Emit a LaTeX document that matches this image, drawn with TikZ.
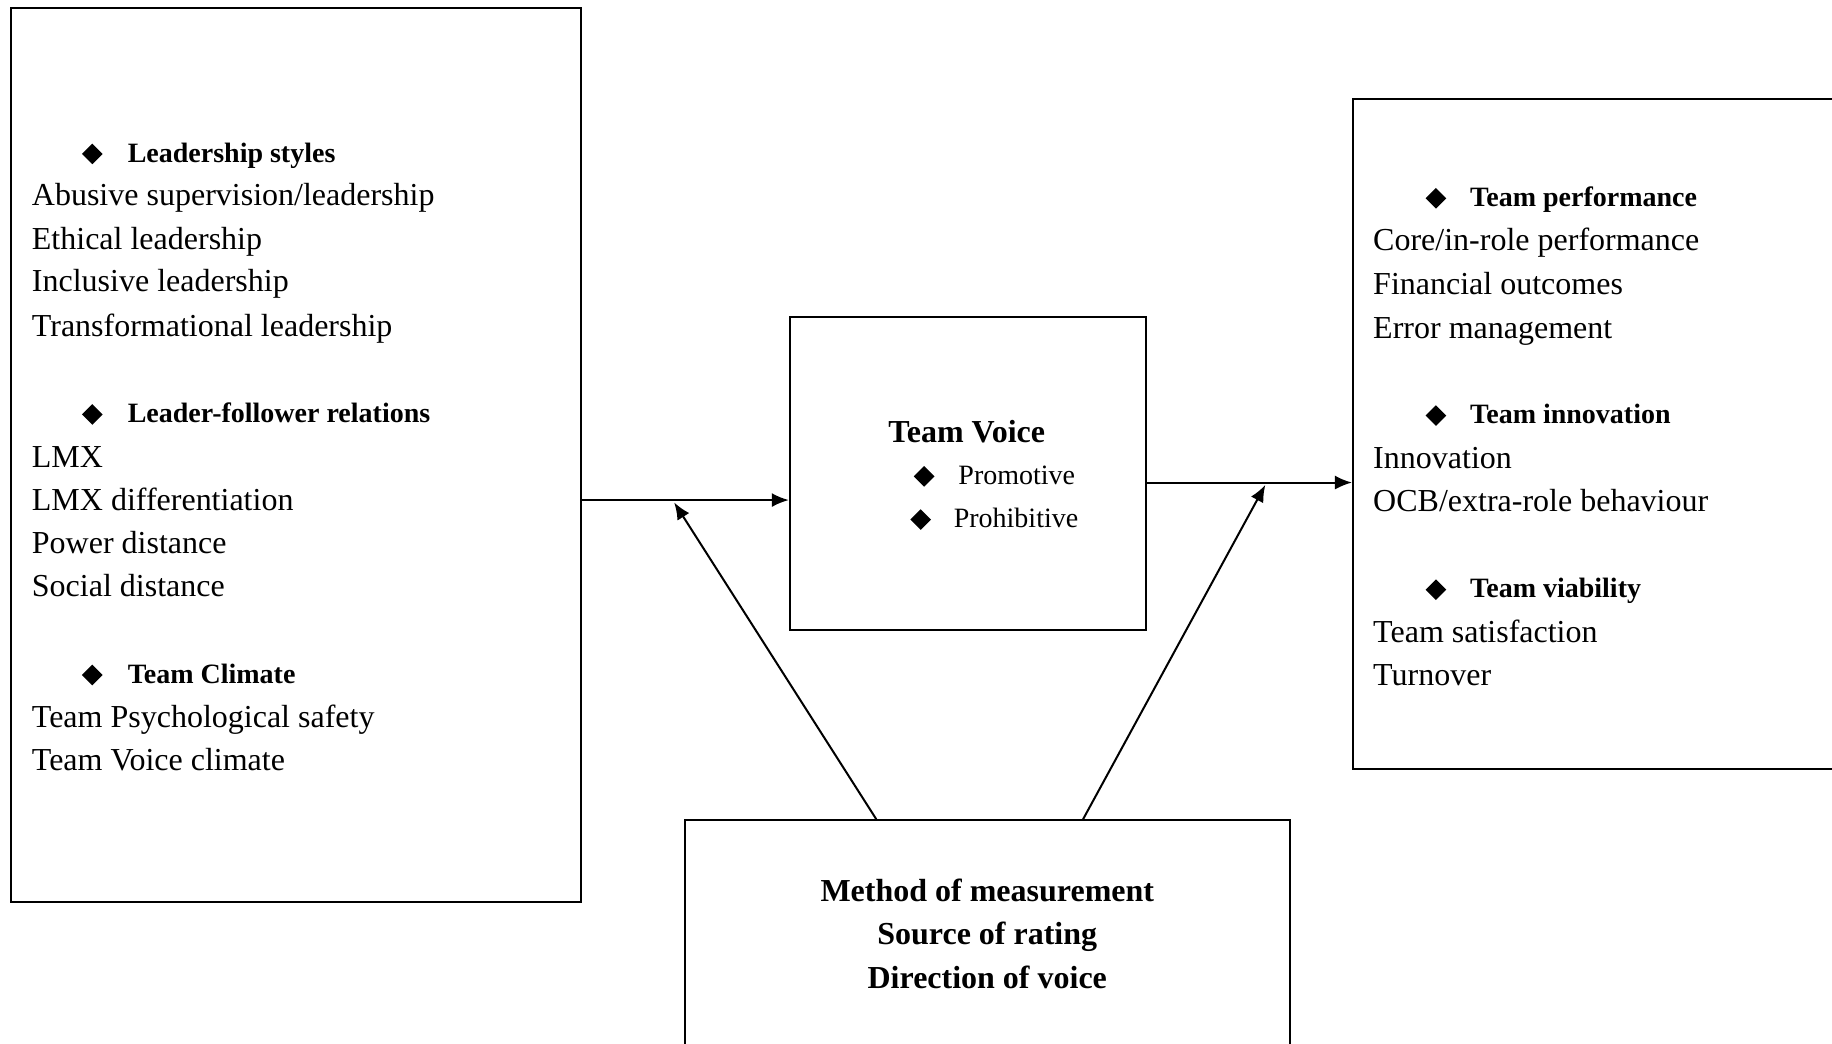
\documentclass[tikz,border=0pt]{standalone}
\usepackage{fontspec}
\setmainfont{Liberation Serif}
\usetikzlibrary{fit,shapes.geometric,arrows.meta}
\begin{document}
\begin{tikzpicture}[x=0.5842pt,y=-0.5842pt,
  box/.style={draw,line width=1pt,inner sep=0pt},
  txtbase/.style={inner sep=0pt,text height=0.66em,text depth=0pt,yshift=-1.8pt},
  item/.style={txtbase,anchor=west,font=\fontsize{16}{19}\selectfont},
  head/.style={txtbase,anchor=west,font=\fontsize{14}{17}\selectfont\bfseries},
  small/.style={txtbase,anchor=west,font=\fontsize{14}{17}\selectfont},
  big/.style={txtbase,font=\fontsize{16}{19}\selectfont\bfseries},
  dia/.style={diamond,fill=black,inner sep=0pt,minimum width=10.5pt,minimum height=10.5pt,yshift=-1pt},
  arr/.style={line width=1pt,-{Latex[length=8.5pt,width=7pt]}}]
\useasboundingbox (0,0) rectangle (1568,893);
\clip (0,0) rectangle (1568,893);

% boxes
\node[box,fit={(9,7) (497,772)}] (L) {};
\node[box,fit={(676,271) (981,539)}] (M) {};
\node[box,fit={(1158,85) (1600,658)}] (R) {};
\node[box,fit={(586,702) (1104,920)}] (B) {};

% left box text
\node[dia] (dl1) at (79,130) {};
\node[head] (hl1) at (109,130) {Leadership styles};
\node[item] (l1) at (27,167) {Abusive supervision/leadership};
\node[item] (l2) at (27,205) {Ethical leadership};
\node[item] (l3) at (27,241) {Inclusive leadership};
\node[item] (l4) at (27,279) {Transformational leadership};
\node[dia] (dl2) at (79,353) {};
\node[head] (hl2) at (109,353) {Leader-follower relations};
\node[item] (l5) at (27,391) {LMX};
\node[item] (l6) at (27,428) {LMX differentiation};
\node[item] (l7) at (27,465) {Power distance};
\node[item] (l8) at (27,502) {Social distance};
\node[dia] (dl3) at (79,576) {};
\node[head] (hl3) at (109,576) {Team Climate};
\node[item] (l9) at (27,614) {Team Psychological safety};
\node[item] (l10) at (27,651) {Team Voice climate};

% middle box text
\node[big,anchor=west] (tv) at (760,370) {Team Voice};
\node[dia] (dm1) at (791,406) {};
\node[small] (m1) at (820,406) {Promotive};
\node[dia] (dm2) at (788,443) {};
\node[small] (m2) at (816,443) {Prohibitive};

% right box text
\node[dia] (dr1) at (1229,168) {};
\node[head] (hr1) at (1258,168) {Team performance};
\node[item] (r1) at (1175,206) {Core/in-role performance};
\node[item] (r2) at (1175,243) {Financial outcomes};
\node[item] (r3) at (1175,281) {Error management};
\node[dia] (dr2) at (1229,354) {};
\node[head] (hr2) at (1258,354) {Team innovation};
\node[item] (r4) at (1175,392) {Innovation};
\node[item] (r5) at (1175,429) {OCB/extra-role behaviour};
\node[dia] (dr3) at (1229,503) {};
\node[head] (hr3) at (1258,503) {Team viability};
\node[item] (r6) at (1175,541) {Team satisfaction};
\node[item] (r7) at (1175,578) {Turnover};

% bottom box text
\node[big] (b1) at (845,763) {Method of measurement};
\node[big] (b2) at (845,800) {Source of rating};
\node[big] (b3) at (845,837) {Direction of voice};

% connectors
\coordinate (y1) at (0,428);
\coordinate (y2) at (0,413);
\coordinate (j1) at (577,430);
\coordinate (j2) at (1083,415);
\coordinate (s1) at (750,0);
\coordinate (s2) at (927,0);
\draw[arr] (L.east |- y1) -- (M.west |- y1);
\draw[arr] (M.east |- y2) -- (R.west |- y2);
\draw[arr] (B.north -| s1) -- (j1);
\draw[arr] (B.north -| s2) -- (j2);
\end{tikzpicture}
\end{document}
